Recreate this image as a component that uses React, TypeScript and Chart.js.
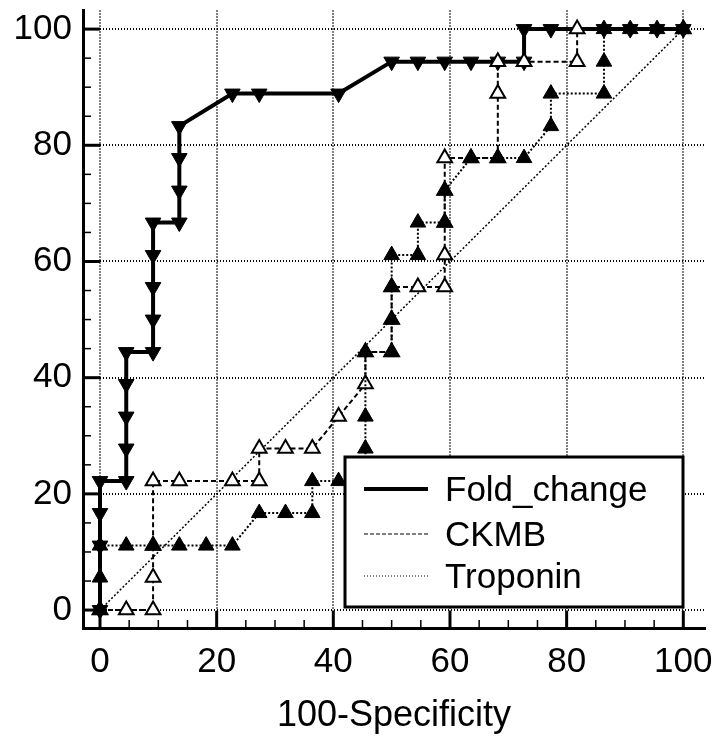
import React, { useEffect, useRef } from "react";
import { Chart, registerables } from "chart.js";

Chart.register(...registerables);

// ---- Data ----
const seriesNames = ["Fold_change", "CKMB", "Troponin"];
const xTitle = "100-Specificity";
const tickValues = [0, 20, 40, 60, 80, 100];

const foldX = [0, 0, 0, 0, 4.5, 4.5, 4.5, 4.5, 4.5, 9.1, 9.1, 9.1, 9.1, 9.1, 13.6, 13.6, 13.6, 13.6, 22.7, 27.3, 40.9, 50, 54.5, 59.1, 63.6, 68.2, 72.7, 72.7, 77.3, 86.4, 90.9, 95.5, 100];
const foldY = [0, 11.1, 16.7, 22.2, 22.2, 27.8, 33.3, 38.9, 44.4, 44.4, 50, 55.6, 61.1, 66.7, 66.7, 72.2, 77.8, 83.3, 88.9, 88.9, 88.9, 94.4, 94.4, 94.4, 94.4, 94.4, 94.4, 100, 100, 100, 100, 100, 100];

const ckmbX = [0, 4.5, 9.1, 9.1, 9.1, 9.1, 13.6, 22.7, 27.3, 27.3, 31.8, 36.4, 40.9, 45.5, 45.5, 50, 50, 50, 54.5, 59.1, 59.1, 59.1, 59.1, 59.1, 63.6, 68.2, 68.2, 68.2, 72.7, 81.8, 81.8, 100];
const ckmbY = [0, 0, 0, 5.6, 11.1, 22.2, 22.2, 22.2, 22.2, 27.8, 27.8, 27.8, 33.3, 38.9, 44.4, 44.4, 50, 55.6, 55.6, 55.6, 61.1, 66.7, 72.2, 77.8, 77.8, 77.8, 88.9, 94.4, 94.4, 94.4, 100, 100];

const tropX = [0, 0, 0, 4.5, 9.1, 13.6, 18.2, 22.7, 27.3, 31.8, 36.4, 36.4, 40.9, 45.5, 45.5, 45.5, 45.5, 50, 50, 50, 50, 54.5, 54.5, 59.1, 59.1, 63.6, 68.2, 72.7, 77.3, 77.3, 86.4, 86.4, 86.4, 90.9, 95.5, 100];
const tropY = [0, 5.6, 11.1, 11.1, 11.1, 11.1, 11.1, 11.1, 16.7, 16.7, 16.7, 22.2, 22.2, 22.2, 27.8, 33.3, 44.4, 44.4, 50, 55.6, 61.1, 61.1, 66.7, 66.7, 72.2, 77.8, 77.8, 77.8, 83.3, 88.9, 88.9, 94.4, 100, 100, 100, 100];

const refX = [0, 100];
const refY = [0, 100];

const FONT = "'Liberation Sans', Arial, Helvetica, sans-serif";

function pts(xs: number[], ys: number[]) {
  return xs.map((x, i) => ({ x, y: ys[i] }));
}

const tickPlugin = {
  id: "inwardTicks",
  beforeDatasetsDraw(chart: any) {
    const { ctx, chartArea } = chart;
    const xs = chart.scales.x;
    const ys = chart.scales.y;
    ctx.save();
    ctx.strokeStyle = "#000";
    ctx.setLineDash([]);
    for (let v = 0; v <= 100; v += 5) {
      const major = v % 20 === 0;
      ctx.lineWidth = major ? 3 : 1.5;
      const len = major ? 17 : 8;
      const py = ys.getPixelForValue(v);
      ctx.beginPath();
      ctx.moveTo(chartArea.left, py);
      ctx.lineTo(chartArea.left + len, py);
      ctx.stroke();
      const px = xs.getPixelForValue(v);
      ctx.beginPath();
      ctx.moveTo(px, chartArea.bottom);
      ctx.lineTo(px, chartArea.bottom - len);
      ctx.stroke();
    }
    ctx.restore();
  },
};

const legendStyles = [
  { width: 4, dash: [] as number[] },
  { width: 1, dash: [4, 2] },
  { width: 1, dash: [1, 2] },
];

const legendPlugin = {
  id: "boxLegend",
  afterDraw(chart: any) {
    const { ctx } = chart;
    const left = 345, top = 457, right = 683, bottom = 607;
    ctx.save();
    ctx.fillStyle = "#fff";
    ctx.fillRect(left, top, right - left, bottom - top);
    ctx.strokeStyle = "#000";
    ctx.lineWidth = 3;
    ctx.setLineDash([]);
    ctx.strokeRect(left, top, right - left, bottom - top);
    const baselines = [501, 546, 588];
    seriesNames.forEach((name, i) => {
      const ly = baselines[i] - 12;
      ctx.beginPath();
      ctx.lineWidth = legendStyles[i].width;
      ctx.setLineDash(legendStyles[i].dash);
      ctx.moveTo(364, ly);
      ctx.lineTo(428, ly);
      ctx.stroke();
      ctx.setLineDash([]);
      ctx.fillStyle = "#000";
      ctx.font = `35px ${FONT}`;
      ctx.textBaseline = "alphabetic";
      ctx.textAlign = "left";
      ctx.fillText(name, 445, baselines[i]);
    });
    ctx.restore();
  },
};

function zeroPad(s: any) {
  s.paddingTop = 0;
  s.paddingBottom = 0;
  s.paddingLeft = 0;
  s.paddingRight = 0;
}

export default function App() {
  const ref = useRef<HTMLCanvasElement | null>(null);

  useEffect(() => {
    if (!ref.current) return;
    const tri = { pointStyle: "triangle" as const, showLine: true, tension: 0 };
    const chart = new Chart(ref.current, {
      type: "scatter",
      data: {
        datasets: [
          {
            ...tri,
            label: seriesNames[0],
            data: pts(foldX, foldY),
            borderColor: "#000",
            borderWidth: 4,
            pointRadius: 9,
            pointRotation: 180,
            pointBackgroundColor: "#000",
            pointBorderColor: "#000",
            pointBorderWidth: 1,
            order: 2,
          },
          {
            ...tri,
            label: seriesNames[1],
            data: pts(ckmbX, ckmbY),
            borderColor: "#000",
            borderWidth: 2,
            borderDash: [5, 3],
            pointRadius: 8.5,
            pointBackgroundColor: "#fff",
            pointBorderColor: "#000",
            pointBorderWidth: 2,
            order: 1,
          },
          {
            ...tri,
            label: seriesNames[2],
            data: pts(tropX, tropY),
            borderColor: "#000",
            borderWidth: 2,
            borderDash: [2, 2],
            pointRadius: 9,
            pointBackgroundColor: "#000",
            pointBorderColor: "#000",
            pointBorderWidth: 1,
            order: 0,
          },
          {
            label: "",
            data: pts(refX, refY),
            showLine: true,
            borderColor: "#000",
            borderWidth: 1.5,
            borderDash: [2, 2],
            pointRadius: 0,
            order: 3,
          },
        ],
      },
      options: {
        responsive: false,
        animation: false,
        events: [],
        layout: { padding: { top: 8, right: 16, left: 0, bottom: 0 } },
        plugins: {
          legend: { display: false },
          tooltip: { enabled: false },
        },
        scales: {
          x: {
            type: "linear",
            min: -2.914,
            max: 103.72,
            afterBuildTicks: (s: any) => {
              s.ticks = tickValues.map((v) => ({ value: v }));
            },
            afterFit: (s: any) => {
              s.height = 116;
              zeroPad(s);
            },
            grid: { color: "#000", lineWidth: 2, drawTicks: false },
            border: { display: true, color: "#000", width: 3, dash: [1, 2] },
            ticks: {
              color: "#000",
              font: { family: FONT, size: 35, lineHeight: 1 },
              padding: 17,
              maxRotation: 0,
              autoSkip: false,
            },
            title: {
              display: true,
              text: xTitle,
              color: "#000",
              font: { family: FONT, size: 36, lineHeight: 1 },
              padding: { top: 0, bottom: 10 },
            },
          },
          y: {
            type: "linear",
            min: -3.086,
            max: 103.2,
            afterBuildTicks: (s: any) => {
              s.ticks = tickValues.map((v) => ({ value: v }));
            },
            afterFit: (s: any) => {
              s.width = 83;
              zeroPad(s);
            },
            grid: { color: "#000", lineWidth: 2, drawTicks: false },
            border: { display: true, color: "#000", width: 3, dash: [1, 2] },
            ticks: {
              color: "#000",
              font: { family: FONT, size: 35, lineHeight: 1 },
              padding: 11,
              autoSkip: false,
            },
          },
        },
      },
      plugins: [tickPlugin, legendPlugin],
    });
    return () => chart.destroy();
  }, []);

  return (
    <div style={{ position: "absolute", left: 0, top: 0, width: 721, height: 744, background: "#fff" }}>
      <canvas ref={ref} width={721} height={744} style={{ display: "block", width: 721, height: 744 }} />
    </div>
  );
}
